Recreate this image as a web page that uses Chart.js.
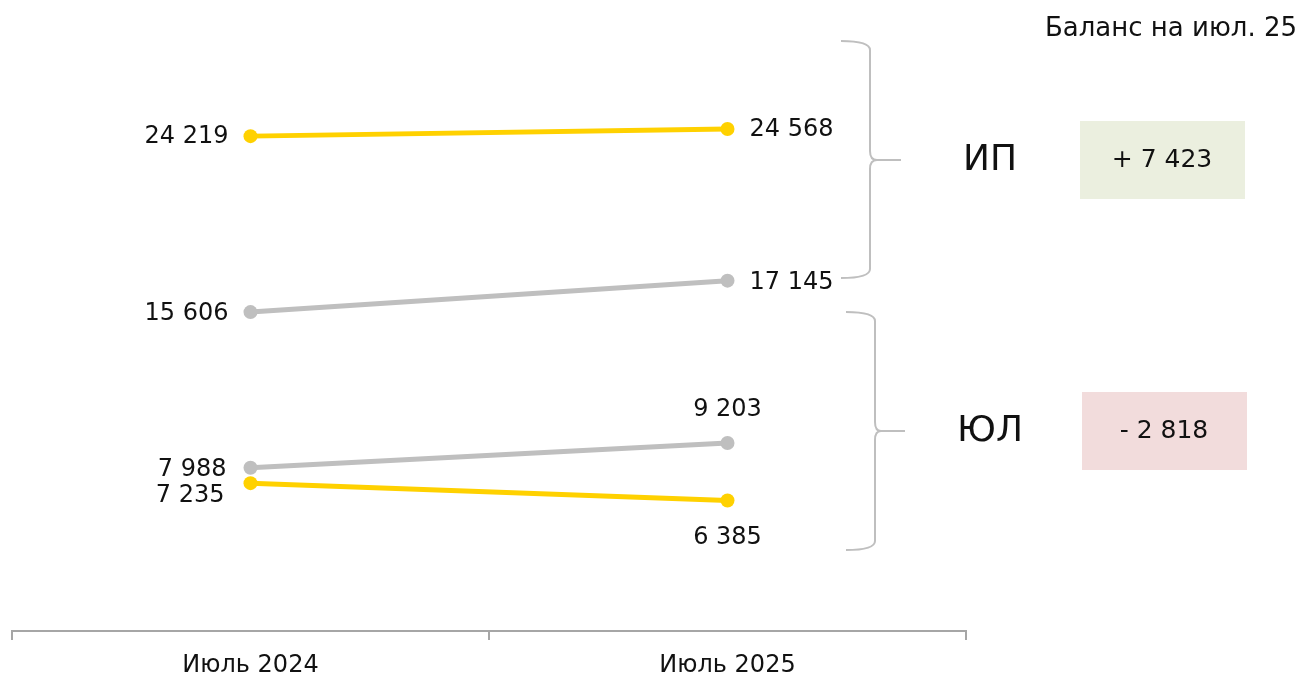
<!DOCTYPE html>
<html lang="ru">
<head>
<meta charset="utf-8">
<script src="https://cdn.jsdelivr.net/npm/chart.js@4.4.1/dist/chart.umd.min.js"></script>
<style>
html,body{margin:0;padding:0;background:#fff;}
#wrap{width:1300px;height:677px;position:relative;}
</style>
</head>
<body>
<div id="wrap"><canvas id="chart"></canvas></div>
<script>
// data
const periods = ["Июль 2024", "Июль 2025"];
const ipYellow = [24219, 24568];
const ipGray = [15606, 17145];
const ulGray = [7988, 9203];
const ulYellow = [7235, 6385];
const groups = ["ИП", "ЮЛ"];
const titleText = "Баланс на июл. 25";

const YELLOW = "#FFD100";
const GRAY = "#BFBFBF";
const FONT = "'DejaVu Sans', sans-serif";

function fmt(v){
    return Math.abs(v).toString().replace(/\B(?=(\d{3})+(?!\d))/g, " ");
}

// balance = yellow - gray at last period
const last = periods.length - 1;
const balances = [ipYellow[last] - ipGray[last], ulYellow[last] - ulGray[last]];

// label offsets per dataset / point: [dx, dy, align]
const labelPos = [
    [[-22, 1, "right"], [22, 1, "left"]],
    [[-22, 2, "right"], [22, 2, "left"]],
    [[-24, 2, "right"], [0, -33, "center"]],
    [[-26, 13, "right"], [0, 37, "center"]]
];

const pointLabels = {
    id: "pointLabels",
    afterDatasetsDraw(chart){
        const ctx = chart.ctx;
        ctx.save();
        ctx.font = "24px " + FONT;
        ctx.fillStyle = "#111";
        ctx.textBaseline = "middle";
        chart.data.datasets.forEach((ds, i) => {
            chart.getDatasetMeta(i).data.forEach((pt, j) => {
                const p = labelPos[i][j];
                ctx.textAlign = p[2];
                ctx.fillText(fmt(ds.data[j]), pt.x + p[0], pt.y + p[1]);
            });
        });
        ctx.restore();
    }
};

function brace(ctx, x0, x1, xt, y0, ym, y1){
    const r = 9;
    ctx.beginPath();
    ctx.moveTo(x0, y0);
    ctx.quadraticCurveTo(x1, y0, x1, y0 + r);
    ctx.lineTo(x1, ym - r);
    ctx.quadraticCurveTo(x1, ym, xt - 24, ym);
    ctx.lineTo(xt, ym);
    ctx.moveTo(xt - 24, ym);
    ctx.quadraticCurveTo(x1, ym, x1, ym + r);
    ctx.lineTo(x1, y1 - r);
    ctx.quadraticCurveTo(x1, y1, x0, y1);
    ctx.stroke();
}

const sidePanel = {
    id: "sidePanel",
    afterDraw(chart){
        const ctx = chart.ctx;
        ctx.save();
        ctx.strokeStyle = GRAY;
        ctx.lineWidth = 2;
        brace(ctx, 841, 870, 901, 41, 160, 278);
        brace(ctx, 846, 875, 905, 312, 431, 550);

        ctx.fillStyle = "#111";
        ctx.textAlign = "center";
        ctx.textBaseline = "middle";
        ctx.font = "36px " + FONT;
        ctx.fillText(groups[0], 990, 161);
        ctx.fillText(groups[1], 990, 432);

        ctx.fillStyle = "#EBEFDF";
        ctx.fillRect(1080, 121, 165, 78);
        ctx.fillStyle = "#F2DCDC";
        ctx.fillRect(1082, 392, 165, 78);

        ctx.fillStyle = "#111";
        ctx.font = "25px " + FONT;
        balances.forEach((b, i) => {
            const s = (b >= 0 ? "+ " : "- ") + fmt(b);
            ctx.fillText(s, i === 0 ? 1162 : 1164, i === 0 ? 160 : 431);
        });

        ctx.textAlign = "right";
        ctx.font = "26px " + FONT;
        ctx.fillText(titleText, 1297, 29);
        ctx.restore();
    }
};

function line(label, data, color){
    return {
        label: label,
        data: data,
        borderColor: color,
        backgroundColor: color,
        borderWidth: 5,
        pointRadius: 7,
        pointHoverRadius: 7,
        pointBorderWidth: 0,
        tension: 0
    };
}

new Chart(document.getElementById("chart"), {
    type: "line",
    data: {
        labels: periods,
        datasets: [
            line("ИП жёлтая", ipYellow, YELLOW),
            line("ИП серая", ipGray, GRAY),
            line("ЮЛ серая", ulGray, GRAY),
            line("ЮЛ жёлтая", ulYellow, YELLOW)
        ]
    },
    options: {
        responsive: true,
        maintainAspectRatio: false,
        animation: false,
        layout: {padding: {left: 12, right: 334, top: 18, bottom: 0}},
        plugins: {legend: {display: false}, tooltip: {enabled: false}},
        scales: {
            y: {display: false, min: 0, max: 30000},
            x: {
                offset: true,
                grid: {offset: true, drawOnChartArea: false, color: "#A6A6A6", lineWidth: 2, tickLength: 9},
                border: {color: "#A6A6A6", width: 2},
                ticks: {color: "#111", font: {size: 24, family: FONT}, padding: 11},
                afterFit(s){ s.height = 46; }
            }
        }
    },
    plugins: [pointLabels, sidePanel]
});
</script>
</body>
</html>
